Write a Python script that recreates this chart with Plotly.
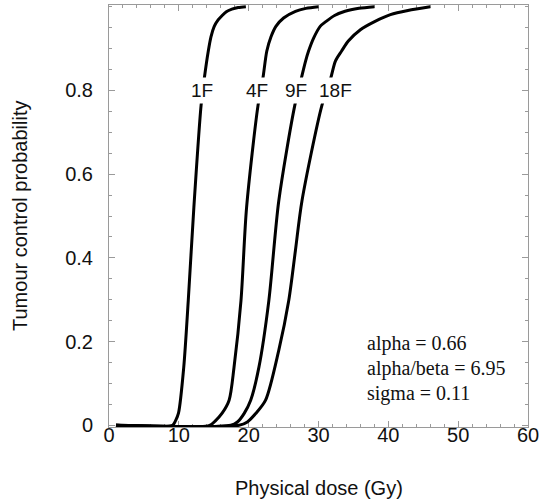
import plotly.graph_objects as go

# Tumour control probability vs physical dose for different fractionations
dose_1f = [1.0, 9.1, 9.5, 9.95, 10.7, 11.35, 12.15, 13.18, 13.65, 14.22, 14.6, 15.07, 15.6, 16.1, 16.8, 17.6, 18.5, 19.6]
tcp_1f = [0.0, 0.0, 0.01, 0.029, 0.138, 0.298, 0.52, 0.763, 0.829, 0.894, 0.928, 0.953, 0.968, 0.977, 0.988, 0.994, 0.998, 1.0]

dose_4f = [1.0, 14.4, 15.3, 16.2, 17.2, 17.9, 18.9, 19.7, 21.33, 22.04, 22.6, 23.2, 23.9, 25.0, 26.7, 28.2, 30.0]
tcp_4f = [0.0, 0.0, 0.012, 0.029, 0.06, 0.138, 0.298, 0.52, 0.763, 0.829, 0.894, 0.928, 0.953, 0.973, 0.989, 0.996, 1.0]

dose_9f = [1.0, 17.45, 18.39, 19.34, 20.29, 21.47, 22.89, 24.31, 26.59, 27.54, 28.15, 28.58, 29.3, 30.24, 31.1, 32.3, 33.8, 35.8, 38.0]
tcp_9f = [0.0, 0.0, 0.008, 0.028, 0.06, 0.139, 0.298, 0.536, 0.763, 0.829, 0.87, 0.894, 0.925, 0.953, 0.965, 0.979, 0.989, 0.996, 1.0]

dose_18f = [1.0, 18.63, 19.81, 21.0, 22.42, 24.31, 25.74, 26.69, 27.63, 30.47, 31.75, 32.42, 33.31, 34.27, 36.0, 38.1, 40.3, 42.8, 46.0]
tcp_18f = [0.0, 0.0, 0.008, 0.028, 0.06, 0.179, 0.298, 0.417, 0.536, 0.763, 0.829, 0.87, 0.894, 0.918, 0.945, 0.965, 0.981, 0.991, 1.0]

curve_names = ["1F", "4F", "9F", "18F"]
label_dose = [13.28, 21.23, 26.81, 32.5]
label_tcp = 0.8

x_ticks = [0, 10, 20, 30, 40, 50, 60]
y_ticks = [0, 0.2, 0.4, 0.6, 0.8]
y_tick_text = ["0", "0.2", "0.4", "0.6", "0.8"]

param_lines = ["alpha = 0.66", "alpha/beta = 6.95", "sigma = 0.11"]
param_tcp = [0.195, 0.136, 0.076]
param_dose = 36.7

SANS = "Liberation Sans, Arial, sans-serif"
SERIF = "Liberation Serif, Times New Roman, serif"
AXIS_GREY = "#9a9a9a"

fig = go.Figure()
series = [(dose_1f, tcp_1f), (dose_4f, tcp_4f), (dose_9f, tcp_9f), (dose_18f, tcp_18f)]
for name, (xs, ys) in zip(curve_names, series):
    fig.add_trace(go.Scatter(
        x=xs, y=ys, mode="lines", name=name, showlegend=False,
        line=dict(color="black", width=3, shape="spline", smoothing=0.8),
    ))

# Curve labels sitting on the lines with a white box
for name, xd in zip(curve_names, label_dose):
    fig.add_annotation(
        x=xd, y=label_tcp, xref="x", yref="y", text=name, showarrow=False,
        font=dict(family=SANS, size=19, color="#111"),
        bgcolor="white", borderpad=2, xanchor="center", yanchor="middle",
    )

# Model parameters
for line, yv in zip(param_lines, param_tcp):
    fig.add_annotation(
        x=param_dose, y=yv, xref="x", yref="y", text=line, showarrow=False,
        font=dict(family=SERIF, size=20, color="#111"),
        xanchor="left", yanchor="middle",
    )

# Axis titles
fig.add_annotation(
    x=0.5, y=0, xref="paper", yref="paper", yshift=-61, text="Physical dose (Gy)",
    showarrow=False, font=dict(family=SANS, size=20, color="#111"),
    xanchor="center", yanchor="middle",
)
fig.add_annotation(
    x=0, y=0.5, xref="paper", yref="paper", xshift=-89, text="Tumour control probability",
    textangle=-90, showarrow=False, font=dict(family=SANS, size=20, color="#111"),
    xanchor="center", yanchor="middle",
)

axis_common = dict(
    showline=True, linecolor=AXIS_GREY, linewidth=1, mirror="allticks",
    ticks="inside", ticklen=6, tickcolor=AXIS_GREY, tickwidth=1,
    showgrid=False, zeroline=False, layer="below traces",
    tickfont=dict(family=SANS, size=20, color="#111"),
)

fig.update_xaxes(
    range=[0, 60], tickvals=x_ticks,
    minor=dict(dtick=2, ticks="inside", ticklen=3, tickcolor=AXIS_GREY, showgrid=False),
    ticklabelstandoff=-10,
    **axis_common,
)
fig.update_yaxes(
    range=[-0.004, 1.004], tickvals=y_ticks, ticktext=y_tick_text,
    minor=dict(dtick=0.05, ticks="inside", ticklen=3, tickcolor=AXIS_GREY, showgrid=False),
    ticklabelstandoff=11,
    **axis_common,
)

fig.update_layout(
    width=543, height=500,
    margin=dict(l=109, r=12, t=4, b=73, pad=0),
    plot_bgcolor="white", paper_bgcolor="white",
    showlegend=False,
)

fig.write_html("out.html")
